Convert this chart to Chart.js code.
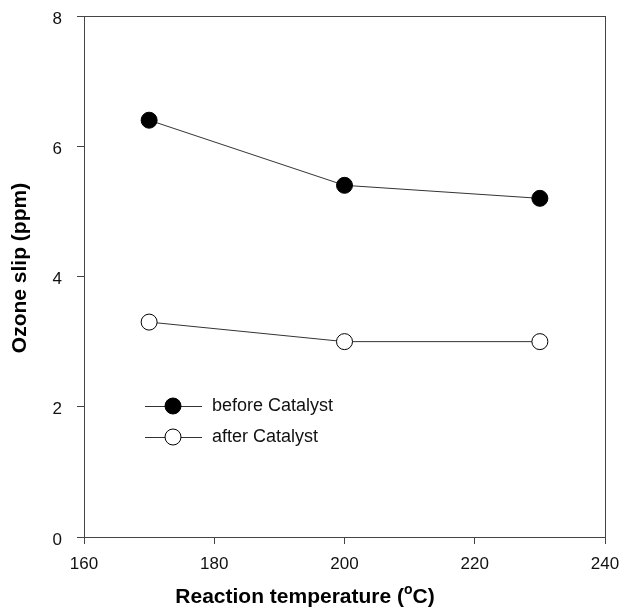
<!DOCTYPE html>
<html>
<head>
<meta charset="utf-8">
<script src="https://cdn.jsdelivr.net/npm/chart.js@4"></script>
<style>
  html, body { margin: 0; padding: 0; background: #fff; }
  #wrap { width: 621px; height: 613px; }
</style>
</head>
<body>
<div id="wrap"><canvas id="ozoneChart" width="621" height="613"></canvas></div>
<script>
// reaction temperature (deg C) and ozone slip (ppm)
const temps = [170, 200, 230];
const beforeCatalyst = [6.4, 5.4, 5.2];
const afterCatalyst = [3.3, 3.0, 3.0];
const xTicks = [160, 180, 200, 220, 240];
const yTicks = [0, 2, 4, 6, 8];

const toPoints = vals => temps.map((t, i) => ({ x: t, y: vals[i] }));
const FONT = '"Liberation Sans", Arial, sans-serif';

// frame, axis titles (with superscript o) and legend inside the plot
const extras = {
    id: 'extras',
    afterDraw(chart) {
        const ctx = chart.ctx;
        const a = chart.chartArea;
        ctx.save();
        ctx.strokeStyle = '#444';
        ctx.lineWidth = 1;
        ctx.strokeRect(a.left + 0.5, a.top + 0.5, a.right - a.left, a.bottom - a.top);

        ctx.fillStyle = '#000';
        // x title
        ctx.textBaseline = 'alphabetic';
        const p1 = 'Reaction temperature (', p2 = 'C)';
        ctx.font = 'bold 21px ' + FONT;
        const w1 = ctx.measureText(p1).width;
        const w2 = ctx.measureText(p2).width;
        ctx.font = 'bold 14px ' + FONT;
        const wo = ctx.measureText('o').width;
        let x = 305 - (w1 + wo + w2) / 2;
        const yb = 603;
        ctx.textAlign = 'left';
        ctx.font = 'bold 21px ' + FONT;
        ctx.fillText(p1, x, yb);
        ctx.font = 'bold 14px ' + FONT;
        ctx.fillText('o', x + w1, yb - 9);
        ctx.font = 'bold 21px ' + FONT;
        ctx.fillText(p2, x + w1 + wo, yb);

        // y title
        ctx.translate(26, 268);
        ctx.rotate(-Math.PI / 2);
        ctx.textAlign = 'center';
        ctx.fillText('Ozone slip (ppm)', 0, 0);
        ctx.restore();

        // legend
        ctx.save();
        chart.data.datasets.forEach((ds, i) => {
            const ly = 406 + i * 31;
            ctx.strokeStyle = ds.borderColor;
            ctx.lineWidth = 1;
            ctx.beginPath();
            ctx.moveTo(145, ly + 0.5);
            ctx.lineTo(202, ly + 0.5);
            ctx.stroke();
            ctx.beginPath();
            ctx.arc(173, ly, ds.pointRadius, 0, Math.PI * 2);
            ctx.fillStyle = ds.pointBackgroundColor;
            ctx.fill();
            ctx.strokeStyle = ds.pointBorderColor;
            ctx.stroke();
            ctx.fillStyle = '#111';
            ctx.font = '18px ' + FONT;
            ctx.textAlign = 'left';
            ctx.textBaseline = 'middle';
            ctx.fillText(ds.label, 212, ly);
        });
        ctx.restore();
    }
};

new Chart(document.getElementById('ozoneChart'), {
    type: 'line',
    data: {
        datasets: [{
            label: 'before Catalyst',
            data: toPoints(beforeCatalyst),
            borderColor: '#333',
            borderWidth: 1,
            pointRadius: 8,
            pointBackgroundColor: '#000',
            pointBorderColor: '#000',
            pointBorderWidth: 1
        }, {
            label: 'after Catalyst',
            data: toPoints(afterCatalyst),
            borderColor: '#333',
            borderWidth: 1,
            pointRadius: 8,
            pointBackgroundColor: '#fff',
            pointBorderColor: '#000',
            pointBorderWidth: 1
        }]
    },
    options: {
        responsive: false,
        animation: false,
        layout: { padding: { top: 16, right: 16, left: 0, bottom: 0 } },
        plugins: { legend: { display: false }, tooltip: { enabled: false } },
        scales: {
            x: {
                type: 'linear',
                min: 160, max: 240,
                afterBuildTicks: s => { s.ticks = xTicks.map(v => ({ value: v })); },
                afterFit: s => { s.height = 76; s.paddingLeft = 0; s.paddingRight = 0; },
                grid: { drawOnChartArea: false, drawTicks: true, tickLength: 7, color: '#444' },
                border: { color: '#444', width: 1 },
                ticks: { color: '#111', padding: 10, font: { family: FONT, size: 17 } }
            },
            y: {
                min: 0, max: 8,
                afterBuildTicks: s => { s.ticks = yTicks.map(v => ({ value: v })); },
                afterFit: s => { s.width = 84; s.paddingTop = 0; s.paddingBottom = 0; },
                grid: { drawOnChartArea: false, drawTicks: true, tickLength: 7, color: '#444' },
                border: { color: '#444', width: 1 },
                ticks: { color: '#111', padding: 15, labelOffset: 3, font: { family: FONT, size: 17 } }
            }
        }
    },
    plugins: [extras]
});
</script>
</body>
</html>
